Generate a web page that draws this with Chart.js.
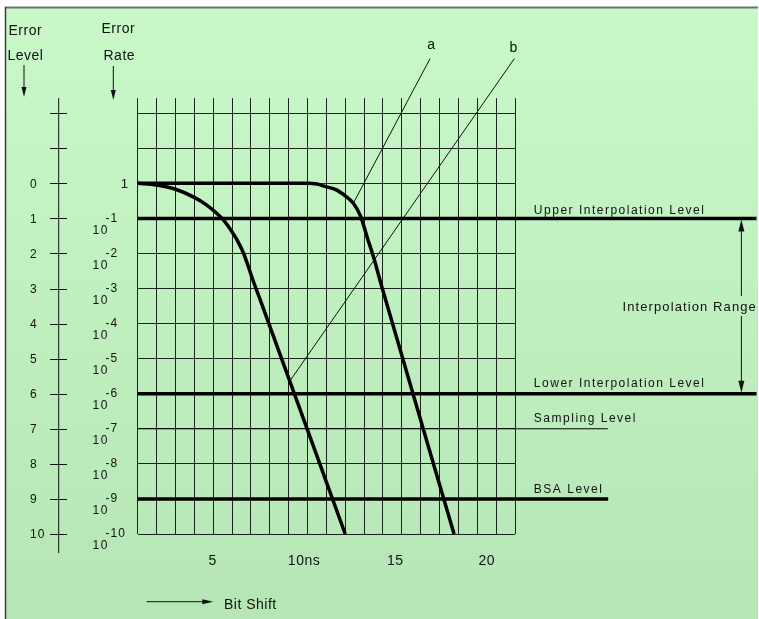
<!DOCTYPE html>
<html>
<head>
<meta charset="utf-8">
<script src="https://cdn.jsdelivr.net/npm/chart.js@4/dist/chart.umd.min.js"></script>
<style>
  html, body { margin: 0; padding: 0; background: #fff; }
  #wrap { width: 759px; height: 619px; }
  canvas { display: block; }
</style>
</head>
<body>
<div id="wrap"><canvas id="c" width="759" height="619"></canvas></div>
<script>
// Error level against bit shift (ns); error rate = 10^-level
const bitShiftA   = [1, 2, 3, 4, 4.66, 5.2, 5.55, 5.9, 6.25, 6.6, 6.85, 7.1, 7.5, 12];
const errorLevelA = [0, 0.05, 0.17, 0.4, 0.62, 0.86, 1.05, 1.3, 1.6, 1.98, 2.35, 2.75, 3.33, 10];
const bitShiftB   = [1, 10, 10.5, 11, 11.5, 12, 12.43, 12.8, 13.05, 13.2, 13.5, 13.94, 17.77];
const errorLevelB = [0, 0, 0.02, 0.1, 0.18, 0.36, 0.57, 0.92, 1.33, 1.6, 2.1, 2.95, 10];

// leader lines for curves a and b: [bit shift, level] end points
const leaderA = [[12.43, 0.57], [16.5, -3.56]];
const leaderB = [[9.05, 5.65], [20.97, -3.56]];

// named reference levels and how far right (bit shift units) each one runs
const refNames  = ['Upper Interpolation Level', 'Lower Interpolation Level', 'Sampling Level', 'BSA Level'];
const refLevels = [1, 6, 7, 9];
const refReach  = [33.8, 33.8, 25.92, 25.94];

// axes
const gridShifts    = [1, 2, 3, 4, 5, 6, 7, 8, 9, 10, 11, 12, 13, 14, 15, 16, 17, 18, 19, 20, 21];
const gridLevels    = [-2, -1, 0, 1, 2, 3, 4, 5, 6, 7, 8, 9, 10];
const levelLabels   = ['0', '1', '2', '3', '4', '5', '6', '7', '8', '9', '10'];
const rateExponents = [0, -1, -2, -3, -4, -5, -6, -7, -8, -9, -10];
const shiftLabelValues = [5, 10, 15, 20];
const shiftLabels      = ['5', '10ns', '15', '20'];

const pts = (xs, ys) => xs.map((x, i) => ({ x: x, y: ys[i] }));
const pairPts = (arr) => arr.map(p => ({ x: p[0], y: p[1] }));

const FONT = '"Liberation Sans", Arial, sans-serif';

function text(ctx, s, x, y, size, spacing, align, base) {
  ctx.save();
  ctx.font = size + 'px ' + FONT;
  ctx.letterSpacing = spacing + 'px';
  ctx.fillStyle = '#111';
  ctx.textAlign = align || 'left';
  ctx.textBaseline = base || 'alphabetic';
  ctx.fillText(s, x, y);
  ctx.restore();
}

function arrow(ctx, x1, y1, x2, y2, len, half, width) {
  const a = Math.atan2(y2 - y1, x2 - x1);
  ctx.save();
  ctx.strokeStyle = '#111';
  ctx.fillStyle = '#111';
  ctx.lineWidth = width || 1;
  ctx.beginPath();
  ctx.moveTo(x1, y1);
  ctx.lineTo(x2 - Math.cos(a) * len * 0.8, y2 - Math.sin(a) * len * 0.8);
  ctx.stroke();
  ctx.beginPath();
  ctx.moveTo(x2, y2);
  ctx.lineTo(x2 - Math.cos(a) * len - Math.sin(a) * half, y2 - Math.sin(a) * len + Math.cos(a) * half);
  ctx.lineTo(x2 - Math.cos(a) * len + Math.sin(a) * half, y2 - Math.sin(a) * len - Math.cos(a) * half);
  ctx.closePath();
  ctx.fill();
  ctx.restore();
}

const decorations = {
  id: 'decorations',
  beforeDraw(chart) {
    const ctx = chart.ctx;
    const W = chart.width, H = chart.height;
    ctx.save();
    ctx.fillStyle = '#fff';
    ctx.fillRect(0, 0, W, H);
    const g = ctx.createLinearGradient(0, 7, 0, H);
    g.addColorStop(0, '#c9f9c9');
    g.addColorStop(1, '#b6e6b6');
    ctx.fillStyle = g;
    ctx.fillRect(5, 7, W - 6, H - 7);
    ctx.strokeStyle = '#6b756b';
    ctx.lineWidth = 2;
    ctx.beginPath(); ctx.moveTo(5, 7.5); ctx.lineTo(W - 1, 7.5); ctx.stroke();
    ctx.strokeStyle = '#3c3c3c';
    ctx.lineWidth = 1.5;
    ctx.beginPath(); ctx.moveTo(5.5, 7); ctx.lineTo(5.5, H); ctx.stroke();
    ctx.restore();
  },
  afterDraw(chart) {
    const ctx = chart.ctx;
    const xs = chart.scales.x, ys = chart.scales.y, xl = chart.scales.xl;

    // column headers
    text(ctx, 'Error', 8.5, 35, 14, 0.5);
    text(ctx, 'Level', 7.5, 59.5, 14, 0.5);
    arrow(ctx, 24, 65, 24, 97, 10, 2.5);
    text(ctx, 'Error', 101.5, 32.5, 14, 0.5);
    text(ctx, 'Rate', 103.5, 60, 14, 0.5);
    arrow(ctx, 113.3, 66, 113.3, 100, 10, 2.5);

    // error level axis
    const axX = 58.7;
    ctx.save();
    ctx.strokeStyle = '#111';
    ctx.lineWidth = 1;
    ctx.beginPath();
    ctx.moveTo(axX, ys.top);
    ctx.lineTo(axX, ys.bottom + 19);
    gridLevels.forEach(v => {
      const y = Math.round(ys.getPixelForValue(v)) + 0.5;
      ctx.moveTo(50, y); ctx.lineTo(67, y);
    });
    ctx.stroke();
    ctx.restore();
    levelLabels.forEach((s, i) => {
      text(ctx, s, 30, ys.getPixelForValue(i) + 1, 12, 1, 'left', 'middle');
    });

    // error rate labels
    rateExponents.forEach((e, i) => {
      const y = ys.getPixelForValue(i);
      if (e === 0) {
        text(ctx, '1', 128, y + 1, 13, 0, 'right', 'middle');
      } else {
        text(ctx, '10', 92.5, y + 12, 12, 1.5, 'left', 'middle');
        text(ctx, String(e), 105.5, y, 12, 1, 'left', 'middle');
      }
    });

    // bit shift labels
    shiftLabelValues.forEach((v, i) => {
      text(ctx, shiftLabels[i], xl.getPixelForValue(v), 565, 14, 0.5, 'center');
    });
    arrow(ctx, 146.7, 601.7, 213.3, 601.7, 11, 2.5);
    text(ctx, 'Bit Shift', 224, 609, 14, 0.5);

    // reference level names
    const lblX = xs.getPixelForValue(22);
    const lift = [4.5, 7, 7, 6];
    refNames.forEach((n, i) => {
      text(ctx, n, lblX, ys.getPixelForValue(refLevels[i]) - lift[i], 12, 1.5);
    });

    // interpolation range marker
    const yU = ys.getPixelForValue(refLevels[0]);
    const yL = ys.getPixelForValue(refLevels[1]);
    const mid = (yU + yL) / 2;
    const ax = xs.getPixelForValue(33);
    arrow(ctx, ax, mid - 10, ax, yU + 1, 12, 3);
    arrow(ctx, ax, mid + 10, ax, yL - 1, 12, 3);
    text(ctx, 'Interpolation Range', 622.5, mid + 5, 13, 1.1);

    // leader letters
    const ta = leaderA[1], tb = leaderB[1];
    text(ctx, 'a', xs.getPixelForValue(ta[0]) + 1, ys.getPixelForValue(ta[1]) - 9, 14, 0, 'center');
    text(ctx, 'b', xs.getPixelForValue(tb[0]) - 1, ys.getPixelForValue(tb[1]) - 6, 14, 0, 'center');
  }
};

const datasets = [];
refNames.forEach((n, i) => {
  datasets.push({
    label: n,
    data: [{ x: 1, y: refLevels[i] }, { x: refReach[i], y: refLevels[i] }],
    borderColor: '#000',
    borderWidth: n === 'Sampling Level' ? 1 : 3.5,
    clip: false
  });
});
datasets.push({
  label: 'a (leader)', data: pairPts(leaderA), borderColor: '#111', borderWidth: 1, clip: false
});
datasets.push({
  label: 'b (leader)', data: pairPts(leaderB), borderColor: '#111', borderWidth: 1, clip: false
});
datasets.push({
  label: 'Curve b', data: pts(bitShiftA, errorLevelA), borderColor: '#000', borderWidth: 3.5,
  cubicInterpolationMode: 'monotone', clip: false
});
datasets.push({
  label: 'Curve a', data: pts(bitShiftB, errorLevelB), borderColor: '#000', borderWidth: 3.5,
  cubicInterpolationMode: 'monotone', clip: false
});

const gridStyle = { color: 'rgba(0,0,0,0.85)', lineWidth: 1, drawTicks: false };

new Chart(document.getElementById('c'), {
  type: 'scatter',
  data: { datasets: datasets },
  options: {
    responsive: false,
    animation: false,
    devicePixelRatio: 1,
    showLine: true,
    elements: { point: { radius: 0, hoverRadius: 0 }, line: { borderCapStyle: 'butt' } },
    layout: { padding: { left: 137.7, right: 244, top: 98.1, bottom: 85 } },
    plugins: { legend: { display: false }, tooltip: { enabled: false } },
    events: [],
    scales: {
      x: {
        type: 'linear', min: 1, max: 21,
        ticks: { display: false },
        border: { display: false },
        grid: gridStyle,
        afterBuildTicks: s => { s.ticks = gridShifts.map(v => ({ value: v })); }
      },
      xl: {
        type: 'linear', axis: 'x', position: 'bottom', display: false,
        min: 0.894, max: 21.549
      },
      y: {
        type: 'linear', min: -2.43, max: 10, reverse: true,
        ticks: { display: false },
        border: { display: false },
        grid: gridStyle,
        afterBuildTicks: s => { s.ticks = gridLevels.map(v => ({ value: v })); }
      }
    }
  },
  plugins: [decorations]
});
</script>
</body>
</html>
